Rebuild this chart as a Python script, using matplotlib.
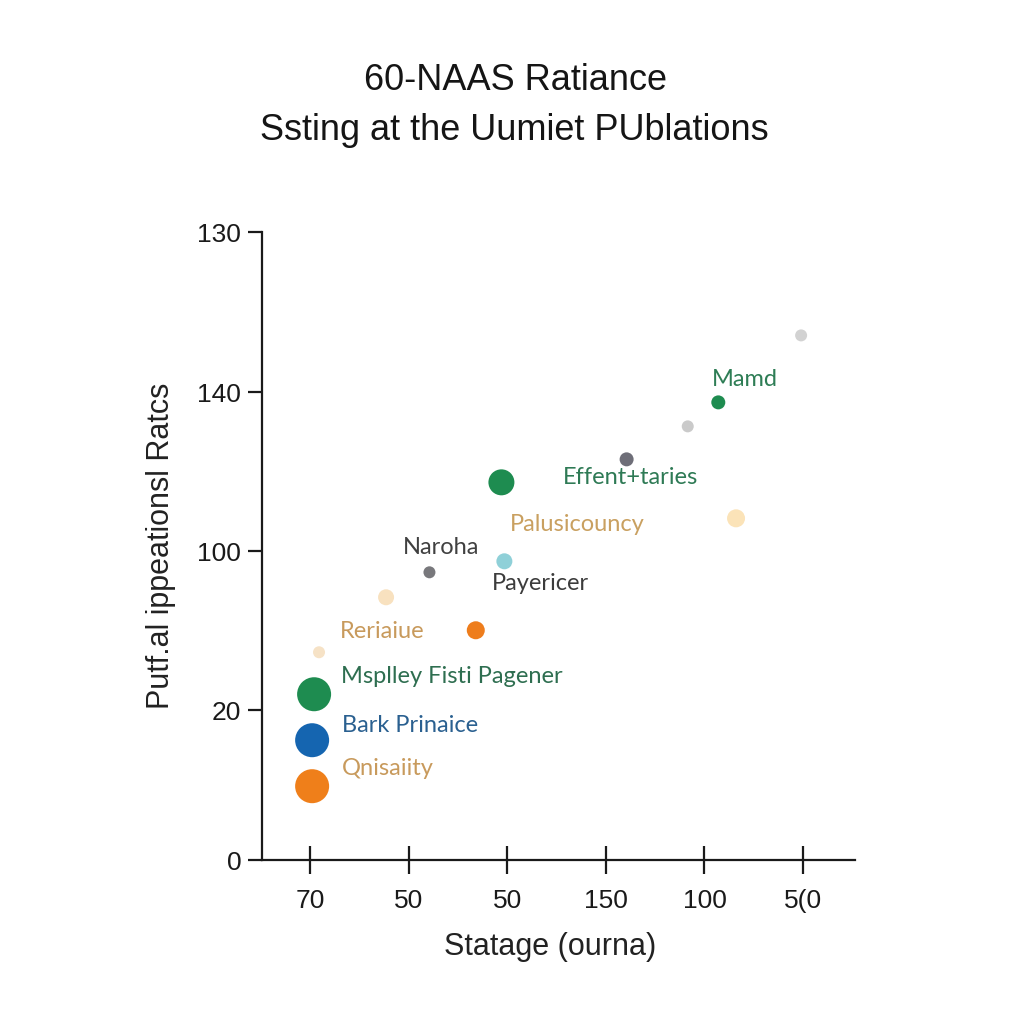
import matplotlib
matplotlib.use("Agg")
import matplotlib.pyplot as plt

# point data (x in tick-slot units, y in axis units above the baseline)
xs = [0.02, 0.02, 0.04, 0.09, 0.77, 1.21, 1.68, 1.97, 1.94, 3.21, 3.83, 4.14, 4.98, 4.32]
ys = [74, 120, 166, 208, 263, 288, 230, 299, 378, 401, 434, 458, 525, 342]
radius = [17, 17, 17, 6, 8, 6, 9, 8, 13, 7, 6, 7, 6, 9]
colors = ['#ef7f1a', '#1565b0', '#1e8c50', '#f6e2c6', '#f8e1bf', '#78787c', '#ee7d1c',
          '#8fd0d8', '#1e8c50', '#6e6e78', '#cacaca', '#1e8c50', '#d2d2d2', '#fbe3b8']

# point labels
labels = ['Mamd', 'Effent+taries', 'Palusicouncy', 'Naroha', 'Payericer', 'Reriaiue',
          'Msplley Fisti Pagener', 'Bark Prinaice', 'Qnisaiity']
label_x = [4.41, 3.25, 2.71, 1.33, 2.34, 0.73, 1.44, 1.01, 0.79]
label_y = [481, 383, 336, 313, 277, 229, 184, 135, 92]
label_colors = ['#2e7d55', '#2e7a55', '#c9a060', '#404040', '#3c3c3c', '#c89a5c',
                '#2e6e50', '#2a6090', '#c89a5c']

xtick_labels = ['70', '50', '50', '150', '100', '5(0']
ytick_pos = [0, 150, 309, 468, 628]
ytick_labels = ['0', '20', '100', '140', '130']

fig = plt.figure(figsize=(10.24, 10.24), dpi=100)
ax = fig.add_axes([0.256, 0.160, 0.579, 0.613])

sizes = [(2 * r / 1.389) ** 2 for r in radius]
ax.scatter(xs, ys, s=sizes, c=colors, linewidths=0, zorder=3)

for t, x, y, c in zip(labels, label_x, label_y, label_colors):
    ax.text(x, y, t, color=c, fontsize=17, ha='center', va='center',
            family=['Lato', 'DejaVu Sans'])

ax.set_xlim(-0.487, 5.527)
ax.set_ylim(0, 628)
ax.set_xticks(range(len(xtick_labels)))
ax.set_xticklabels(xtick_labels, fontsize=19, family='Liberation Sans')
ax.set_yticks(ytick_pos)
ax.set_yticklabels(ytick_labels, fontsize=19, family='Liberation Sans')
ax.tick_params(axis='x', direction='inout', length=20, width=1.6, pad=11, colors='#1a1a1a')
ax.tick_params(axis='y', direction='out', length=10, width=1.6, pad=5, colors='#1a1a1a')

for side in ['top', 'right']:
    ax.spines[side].set_visible(False)
for side in ['left', 'bottom']:
    ax.spines[side].set_linewidth(1.6)
    ax.spines[side].set_color('#1a1a1a')

ax.set_xlabel('Statage (ourna)', fontsize=22, family='Liberation Sans', color='#222222')
ax.set_ylabel('Putf.al ippeationsl Ratcs', fontsize=22, family='Liberation Sans',
              color='#222222')
ax.xaxis.set_label_coords(0.486, -0.115)
ax.yaxis.set_label_coords(-0.145, 0.5)

fig.text(0.503, 0.921, '60-NAAS Ratiance', ha='center', va='center', fontsize=26,
         family=['Liberation Sans Narrow', 'Liberation Sans'], color='#151515')
fig.text(0.502, 0.873, 'Ssting at the Uumiet PUblations', ha='center', va='center',
         fontsize=26, family=['Liberation Sans Narrow', 'Liberation Sans'], color='#151515')

fig.savefig('out.png', dpi=100, facecolor='white')
